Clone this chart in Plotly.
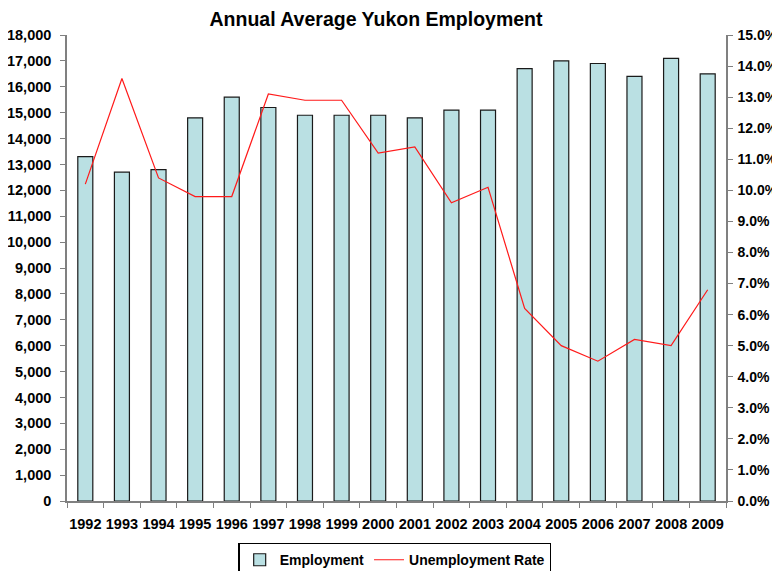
import plotly.graph_objects as go

years = [str(y) for y in range(1992, 2010)]
employment = [13300, 12700, 12800, 14800, 15600, 15200, 14900, 14900, 14900,
              14800, 15100, 15100, 16700, 17000, 16900, 16400, 17100, 16500]
unemployment_rate = [10.2, 13.6, 10.4, 9.8, 9.8, 13.1, 12.9, 12.9, 11.2,
                     11.4, 9.6, 10.1, 6.2, 5.0, 4.5, 5.2, 5.0, 6.8]

FONT = "Liberation Sans, Arial, sans-serif"

fig = go.Figure()
fig.add_trace(go.Bar(
    x=years, y=employment, name="<b>Employment</b>",
    marker=dict(color="#BAE0E3", line=dict(color="#1a1a1a", width=1.2)),
    width=0.41,
))
fig.add_trace(go.Scatter(
    x=years, y=unemployment_rate, name="<b>Unemployment Rate</b>", yaxis="y2",
    mode="lines", line=dict(color="#FF1A1A", width=1.2),
))

axis_common = dict(
    showgrid=False, zeroline=False, showline=True, linecolor="#808080",
    linewidth=1.5, ticks="outside", ticklen=5, tickcolor="#808080",
    tickfont=dict(family=FONT, size=14.5, color="#000000"),
    automargin=False,
)

# the page body has an 8px margin; the figure is sized so it ends at the window edge
fig.update_layout(
    width=772, height=563,
    margin=dict(l=59, r=54, t=27, b=70, autoexpand=False),
    paper_bgcolor="white", plot_bgcolor="white",
    font=dict(family=FONT, color="#000000"),
    title=dict(text="<b>Annual Average Yukon Employment</b>",
               x=0.4767, xanchor="center", y=0.9805, yanchor="middle",
               font=dict(family=FONT, size=19.5, color="#000000")),
    xaxis=dict(**axis_common, type="category", tickson="boundaries",
               tickangle=0, ticklabelstandoff=9,
               tickprefix="<b>", ticksuffix="</b>"),
    yaxis=dict(**axis_common, range=[0, 18000], dtick=1000,
               ticklabelstandoff=6,
               tickformat=",", tickprefix="<b>", ticksuffix="</b>"),
    yaxis2=dict(**axis_common, overlaying="y", side="right", range=[0, 15],
                dtick=1, tickformat=".1f", ticklabelstandoff=2,
                tickprefix="<b>", ticksuffix="%</b>"),
    legend=dict(orientation="h", x=0.4977, xanchor="center", y=-0.09,
                yanchor="top", bordercolor="#000000", borderwidth=1.2,
                font=dict(family=FONT, size=14, color="#000000"),
                traceorder="normal"),
    showlegend=True,
)
fig.layout.yaxis2.tickfont.size = 14

fig.write_html("out.html")
